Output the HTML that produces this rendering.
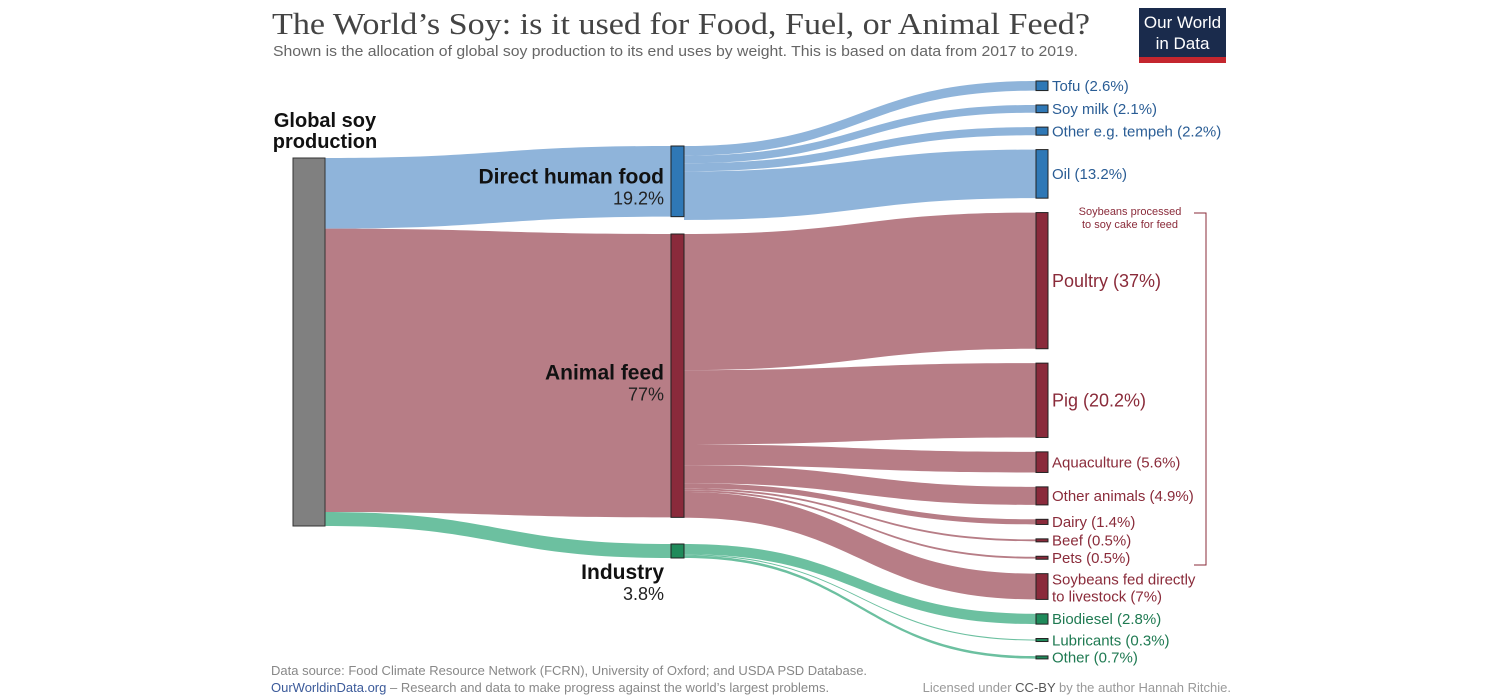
<!DOCTYPE html>
<html><head><meta charset="utf-8"><style>
html,body{margin:0;padding:0;background:#fff;}
svg{display:block;font-family:"Liberation Sans",sans-serif;}
</style></head><body>
<svg id="chart" width="1500" height="700" viewBox="0 0 1500 700">
<text x="272" y="34" font-family="Liberation Serif, serif" font-size="31" fill="#444" textLength="818" lengthAdjust="spacingAndGlyphs">The World’s Soy: is it used for Food, Fuel, or Animal Feed?</text>
<text x="273" y="56" font-size="15" fill="#666" textLength="805" lengthAdjust="spacingAndGlyphs">Shown is the allocation of global soy production  to its end uses by weight. This is based on data from 2017 to 2019.</text>
<g>
<rect x="1139" y="8" width="87" height="55" fill="#1a2b4c"/>
<rect x="1139" y="57" width="87" height="6" fill="#c4262e"/>
<text x="1182.5" y="28" font-size="17" fill="#fff" text-anchor="middle">Our World</text>
<text x="1182.5" y="49" font-size="17" fill="#fff" text-anchor="middle">in Data</text>
</g>
<g id="links"></g>
<g id="nodes"></g>
<g id="labels"></g>
<text x="1130" y="215" font-size="11" fill="#8a2b3a" text-anchor="middle">Soybeans processed</text>
<text x="1130" y="228" font-size="11" fill="#8a2b3a" text-anchor="middle">to soy cake for feed</text>
<path d="M1194 213 H1206 V565 H1194" fill="none" stroke="#8a2b3a" stroke-width="1"/>
<text x="271" y="675" font-size="13" fill="#888">Data source: Food Climate Resource Network (FCRN), University of Oxford; and USDA PSD Database.</text>
<text x="271" y="692" font-size="13" fill="#888"><tspan fill="#3b5a9a">OurWorldinData.org</tspan> – Research and data to make progress against the world’s largest problems.</text>
<text x="1231" y="692" font-size="13" fill="#999" text-anchor="end">Licensed under <tspan fill="#555">CC-BY</tspan> by the author Hannah Ritchie.</text>
</svg>
<script>
const midNames = ["Direct human food", "Animal feed", "Industry"];
const midValues = [19.2, 77, 3.8];
const endNames = ["Tofu", "Soy milk", "Other e.g. tempeh", "Oil", "Poultry", "Pig", "Aquaculture", "Other animals", "Dairy", "Beef", "Pets", "Soybeans fed directly|to livestock", "Biodiesel", "Lubricants", "Other"];
const endValues = [2.6, 2.1, 2.2, 13.2, 37, 20.2, 5.6, 4.9, 1.4, 0.5, 0.5, 7, 2.8, 0.3, 0.7];
const endGroup = [0,0,0,0,1,1,1,1,1,1,1,1,2,2,2];

const NS = "http://www.w3.org/2000/svg";
const S = 3.68;
const linkCol = ["#8fb4da", "#b77d86", "#6cc0a0"];
const nodeCol = ["#2f78b6", "#8a2a3b", "#1f8a5a"];
const txtCol = ["#2a5d95", "#8a2b3a", "#1f7a52"];
const gx0 = 293, gx1 = 325, mx0 = 671, mx1 = 684, rx0 = 1036, rx1 = 1048;
const midTops = [146, 234, 544];
const labelDy = [[2, 23], [4, 25], [28, 49]];
function el(tag, attrs, parent){const e=document.createElementNS(NS,tag);for(const k in attrs)e.setAttribute(k,attrs[k]);parent.appendChild(e);return e;}
function ribbon(xa, ya, xb, yb, h){
  const xm=(xa+xb)/2;
  return `M${xa},${ya} C${xm},${ya} ${xm},${yb} ${xb},${yb} L${xb},${yb+h} C${xm},${yb+h} ${xm},${ya+h} ${xa},${ya+h} Z`;
}
const L=document.getElementById("links"), N=document.getElementById("nodes"), T=document.getElementById("labels");
const total = midValues.reduce((a,b)=>a+b,0);
const gTop = 158;
const gn = el("rect",{x:gx0,y:gTop,width:gx1-gx0,height:total*S,fill:"#808080",stroke:"#333","stroke-width":1},N);


let gt = el("text",{x:325,y:127,"font-size":20,"font-weight":"bold","text-anchor":"middle",fill:"#111"},T);
gt.textContent="Global soy";


gt = el("text",{x:325,y:148,"font-size":20,"font-weight":"bold","text-anchor":"middle",fill:"#111"},T);
gt.textContent="production";


let off = gTop;
const midOut = [];
midValues.forEach((v,i)=>{
  const h=v*S;
  const p=el("path",{d:ribbon(gx1,off,mx0,midTops[i],h),fill:linkCol[i]},L);
  
  
  off+=h;
  const r=el("rect",{x:mx0,y:midTops[i],width:mx1-mx0,height:Math.max(h,3),fill:nodeCol[i],stroke:"#222","stroke-width":1},N);
  
  
  midOut.push(midTops[i]);
  const cy=midTops[i]+Math.max(h,14)/2;
  const t1=el("text",{x:664,y:cy+labelDy[i][0],"font-size":21,"font-weight":"bold","text-anchor":"end",fill:"#111"},T);
  t1.textContent=midNames[i];
  
  
  const t2=el("text",{x:664,y:cy+labelDy[i][1],"font-size":18,"text-anchor":"end",fill:"#222"},T);
  t2.textContent=v+"%";
  
  
});
let y = 81;
const GAP = 14.4;
endValues.forEach((v,i)=>{
  const g=endGroup[i];
  const h=v*S;
  const hn=Math.max(h,3);
  const p=el("path",{d:ribbon(mx1,midOut[g],rx0,y+(hn-h)/2,h),fill:linkCol[g]},L);
  
  
  midOut[g]+=h;
  const r=el("rect",{x:rx0,y:y,width:rx1-rx0,height:hn,fill:nodeCol[g],stroke:"#222","stroke-width":1},N);
  
  
  const cy=y+hn/2;
  const big=(v>15&&g==1);
  const fs=big?18:15;
  const parts=endNames[i].split('|');
  if(parts.length>1){
    const a=el("text",{x:1052,y:cy-2,"font-size":fs,fill:txtCol[g]},T);
    a.textContent=parts[0];
    
    
    const b=el("text",{x:1052,y:cy+15,"font-size":fs,fill:txtCol[g]},T);
    b.textContent=parts[1]+" ("+v+"%)";
    
    
  } else {
    const a=el("text",{x:1052,y:cy+fs*0.35,"font-size":fs,fill:txtCol[g]},T);
    a.textContent=parts[0]+" ("+v+"%)";
    
    
  }
  y+=hn+GAP;
});
</script>
</body></html>
